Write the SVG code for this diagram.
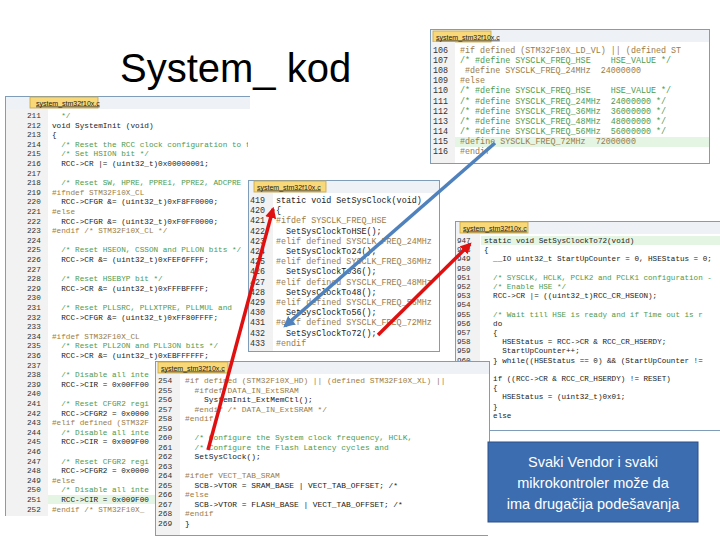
<svg xmlns="http://www.w3.org/2000/svg" width="720" height="540" viewBox="0 0 720 540" xml:space="preserve">
<style>
text{font-family:"Liberation Mono","DejaVu Sans Mono",monospace;white-space:pre}
.pane{fill:#fff;stroke:#7f9db9;stroke-width:1}
.gut{fill:#f2f2f2}
.tabbar{fill:#eef1f6}
.tab{fill:#f8d878;stroke:#c9a640;stroke-width:0.8}
.tabt{font-family:"Liberation Sans",Arial,sans-serif;font-size:7px;fill:#222;text-decoration:underline}
.ln{fill:#333}
.c{fill:#222}
.cm{fill:#4e9a4e}
.pp{fill:#9a7b48}
.hl{fill:#e4f5e4}
.red{stroke:#e01010;stroke-width:3.5;fill:none}
.blue{stroke:#4f81bd;stroke-width:3.5;fill:none}
</style>
<defs>
<marker id="ar" viewBox="0 0 10 10" refX="8" refY="5" markerWidth="3.2" markerHeight="3.2" orient="auto"><path d="M0,0 L10,5 L0,10 z" fill="#e01010"/></marker>
<marker id="ab" viewBox="0 0 10 10" refX="8" refY="5" markerWidth="3.2" markerHeight="3.2" orient="auto"><path d="M0,0 L10,5 L0,10 z" fill="#4f81bd"/></marker>
<clipPath id="c1"><path d="M5,96 H250 V180 H248 V361 H155 V516 H5 Z"/></clipPath>
<clipPath id="c1b"><path d="M5,96 H248 V361 H155 V516 H5 Z"/></clipPath>
<clipPath id="c2"><rect x="430" y="29" width="280" height="135"/></clipPath>
<clipPath id="c2t"><rect x="430" y="29" width="278" height="135"/></clipPath>
<clipPath id="c3"><rect x="248" y="180" width="192" height="172"/></clipPath>
<clipPath id="c4"><path d="M455,221 H720 V442 H488 V431 H455 Z"/></clipPath>
<clipPath id="c4t"><path d="M455,221 H718 V442 H488 V431 H455 Z"/></clipPath>
<clipPath id="c5"><path d="M155,361 H490 V442 H488 V536 H155 Z"/></clipPath>
</defs>
<rect width="720" height="540" fill="#fff"/>
<text x="120" y="82" style="font-family:'Liberation Sans','Open Sans',sans-serif;font-size:40px;fill:#000">System_ kod</text>

<g id="panel-systeminit" clip-path="url(#c1)">
<rect class="pane" x="5.5" y="96.5" width="260" height="420"/>
<rect class="tabbar" x="6" y="97" width="259" height="12"/>
<rect class="tab" x="30" y="97" width="68" height="11"/>
<text class="tabt" x="36" y="105.5">system_stm32f10x.c</text>
<rect class="gut" x="6" y="109" width="42" height="407"/>
<rect class="hl" x="48" y="495" width="200" height="9"/>
<g font-size="7.7" clip-path="url(#c1b)">
<text class="ln" x="27" y="118">211</text><text class="cm" x="52" y="118">  */</text>
<text class="ln" x="27" y="127.6">212</text><text class="c" x="52" y="127.6">void SystemInit (void)</text>
<text class="ln" x="27" y="137.2">213</text><text class="c" x="52" y="137.2">{</text>
<text class="ln" x="27" y="146.8">214</text><text class="cm" x="52" y="146.8">  /* Reset the RCC clock configuration to the default reset state</text>
<text class="ln" x="27" y="156.4">215</text><text class="cm" x="52" y="156.4">  /* Set HSION bit */</text>
<text class="ln" x="27" y="166">216</text><text class="c" x="52" y="166">  RCC->CR |= (uint32_t)0x00000001;</text>
<text class="ln" x="27" y="175.6">217</text>
<text class="ln" x="27" y="185.2">218</text><text class="cm" x="52" y="185.2">  /* Reset SW, HPRE, PPRE1, PPRE2, ADCPRE</text>
<text class="ln" x="27" y="194.8">219</text><text class="pp" x="52" y="194.8">#ifndef STM32F10X_CL</text>
<text class="ln" x="27" y="204.4">220</text><text class="c" x="52" y="204.4">  RCC->CFGR &amp;= (uint32_t)0xF8FF0000;</text>
<text class="ln" x="27" y="214">221</text><text class="pp" x="52" y="214">#else</text>
<text class="ln" x="27" y="223.6">222</text><text class="c" x="52" y="223.6">  RCC->CFGR &amp;= (uint32_t)0xF0FF0000;</text>
<text class="ln" x="27" y="233.2">223</text><text class="pp" x="52" y="233.2">#endif /* STM32F10X_CL */</text>
<text class="ln" x="27" y="242.8">224</text>
<text class="ln" x="27" y="252.4">225</text><text class="cm" x="52" y="252.4">  /* Reset HSEON, CSSON and PLLON bits */</text>
<text class="ln" x="27" y="262">226</text><text class="c" x="52" y="262">  RCC->CR &amp;= (uint32_t)0xFEF6FFFF;</text>
<text class="ln" x="27" y="271.6">227</text>
<text class="ln" x="27" y="281.2">228</text><text class="cm" x="52" y="281.2">  /* Reset HSEBYP bit */</text>
<text class="ln" x="27" y="290.8">229</text><text class="c" x="52" y="290.8">  RCC->CR &amp;= (uint32_t)0xFFFBFFFF;</text>
<text class="ln" x="27" y="300.4">230</text>
<text class="ln" x="27" y="310">231</text><text class="cm" x="52" y="310">  /* Reset PLLSRC, PLLXTPRE, PLLMUL and</text>
<text class="ln" x="27" y="319.6">232</text><text class="c" x="52" y="319.6">  RCC->CFGR &amp;= (uint32_t)0xFF80FFFF;</text>
<text class="ln" x="27" y="329.2">233</text>
<text class="ln" x="27" y="338.8">234</text><text class="pp" x="52" y="338.8">#ifdef STM32F10X_CL</text>
<text class="ln" x="27" y="348.4">235</text><text class="cm" x="52" y="348.4">  /* Reset PLL2ON and PLL3ON bits */</text>
<text class="ln" x="27" y="358">236</text><text class="c" x="52" y="358">  RCC->CR &amp;= (uint32_t)0xEBFFFFFF;</text>
<text class="ln" x="27" y="367.6">237</text>
<text class="ln" x="27" y="377.2">238</text><text class="cm" x="52" y="377.2">  /* Disable all inte</text>
<text class="ln" x="27" y="386.8">239</text><text class="c" x="52" y="386.8">  RCC->CIR = 0x00FF00</text>
<text class="ln" x="27" y="396.4">240</text>
<text class="ln" x="27" y="406">241</text><text class="cm" x="52" y="406">  /* Reset CFGR2 regi</text>
<text class="ln" x="27" y="415.6">242</text><text class="c" x="52" y="415.6">  RCC->CFGR2 = 0x0000</text>
<text class="ln" x="27" y="425.2">243</text><text class="pp" x="52" y="425.2">#elif defined (STM32F</text>
<text class="ln" x="27" y="434.8">244</text><text class="cm" x="52" y="434.8">  /* Disable all inte</text>
<text class="ln" x="27" y="444.4">245</text><text class="c" x="52" y="444.4">  RCC->CIR = 0x009F00</text>
<text class="ln" x="27" y="454">246</text>
<text class="ln" x="27" y="463.6">247</text><text class="cm" x="52" y="463.6">  /* Reset CFGR2 regi</text>
<text class="ln" x="27" y="473.2">248</text><text class="c" x="52" y="473.2">  RCC->CFGR2 = 0x0000</text>
<text class="ln" x="27" y="482.8">249</text><text class="pp" x="52" y="482.8">#else</text>
<text class="ln" x="27" y="492.4">250</text><text class="cm" x="52" y="492.4">  /* Disable all inte</text>
<text class="ln" x="27" y="502">251</text><text class="c" x="52" y="502">  RCC->CIR = 0x009F00</text>
<text class="ln" x="27" y="511.6">252</text><text class="pp" x="52" y="511.6">#endif /* STM32F10X_</text>
</g>
</g>

<g id="panel-defines" clip-path="url(#c2)">
<rect class="pane" x="430.5" y="29.5" width="279" height="134"/>
<rect class="tabbar" x="431" y="30" width="278" height="12"/>
<rect class="tab" x="433" y="31" width="58" height="11"/>
<text class="tabt" x="436" y="39.5">system_stm32f10x.c</text>
<rect class="gut" x="431" y="42" width="24" height="121"/>
<rect class="hl" x="455" y="137" width="254" height="10"/>
<g font-size="8.4" clip-path="url(#c2t)">
<text class="ln" x="433" y="53">106</text><text class="pp" x="460" y="53">#if defined (STM32F10X_LD_VL) || (defined ST</text>
<text class="ln" x="433" y="63.1">107</text><text class="cm" x="460" y="63.1">/* #define SYSCLK_FREQ_HSE    HSE_VALUE */</text>
<text class="ln" x="433" y="73.2">108</text><text class="pp" x="460" y="73.2"> #define SYSCLK_FREQ_24MHz  24000000</text>
<text class="ln" x="433" y="83.3">109</text><text class="pp" x="460" y="83.3">#else</text>
<text class="ln" x="433" y="93.4">110</text><text class="cm" x="460" y="93.4">/* #define SYSCLK_FREQ_HSE    HSE_VALUE */</text>
<text class="ln" x="433" y="103.5">111</text><text class="cm" x="460" y="103.5">/* #define SYSCLK_FREQ_24MHz  24000000 */</text>
<text class="ln" x="433" y="113.6">112</text><text class="cm" x="460" y="113.6">/* #define SYSCLK_FREQ_36MHz  36000000 */</text>
<text class="ln" x="433" y="123.7">113</text><text class="cm" x="460" y="123.7">/* #define SYSCLK_FREQ_48MHz  48000000 */</text>
<text class="ln" x="433" y="133.8">114</text><text class="cm" x="460" y="133.8">/* #define SYSCLK_FREQ_56MHz  56000000 */</text>
<text class="ln" x="433" y="143.9">115</text><text class="pp" x="460" y="143.9">#define SYSCLK_FREQ_72MHz  72000000</text>
<text class="ln" x="433" y="154">116</text><text class="pp" x="460" y="154">#endif</text>
</g>
</g>

<g id="panel-setsysclock" clip-path="url(#c3)">
<rect class="pane" x="248.5" y="180.5" width="191" height="171"/>
<rect class="tabbar" x="249" y="181" width="190" height="12"/>
<rect class="tab" x="254" y="181" width="72" height="11"/>
<text class="tabt" x="257" y="189.5">system_stm32f10x.c</text>
<rect class="gut" x="249" y="193" width="24" height="158"/>
<g font-size="8.4">
<text class="ln" x="250" y="203">419</text><text class="c" x="276" y="203">static void SetSysClock(void)</text>
<text class="ln" x="250" y="213.2">420</text><text class="c" x="276" y="213.2">{</text>
<text class="ln" x="250" y="223.4">421</text><text class="pp" x="276" y="223.4">#ifdef SYSCLK_FREQ_HSE</text>
<text class="ln" x="250" y="233.6">422</text><text class="c" x="276" y="233.6">  SetSysClockToHSE();</text>
<text class="ln" x="250" y="243.8">423</text><text class="pp" x="276" y="243.8">#elif defined SYSCLK_FREQ_24MHz</text>
<text class="ln" x="250" y="254">424</text><text class="c" x="276" y="254">  SetSysClockTo24();</text>
<text class="ln" x="250" y="264.2">425</text><text class="pp" x="276" y="264.2">#elif defined SYSCLK_FREQ_36MHz</text>
<text class="ln" x="250" y="274.4">426</text><text class="c" x="276" y="274.4">  SetSysClockTo36();</text>
<text class="ln" x="250" y="284.6">427</text><text class="pp" x="276" y="284.6">#elif defined SYSCLK_FREQ_48MHz</text>
<text class="ln" x="250" y="294.8">428</text><text class="c" x="276" y="294.8">  SetSysClockTo48();</text>
<text class="ln" x="250" y="305">429</text><text class="pp" x="276" y="305">#elif defined SYSCLK_FREQ_56MHz</text>
<text class="ln" x="250" y="315.2">430</text><text class="c" x="276" y="315.2">  SetSysClockTo56();</text>
<text class="ln" x="250" y="325.4">431</text><text class="pp" x="276" y="325.4">#elif defined SYSCLK_FREQ_72MHz</text>
<text class="ln" x="250" y="335.6">432</text><text class="c" x="276" y="335.6">  SetSysClockTo72();</text>
<text class="ln" x="250" y="345.8">433</text><text class="pp" x="276" y="345.8">#endif</text>
</g>
</g>

<g id="panel-setsysclockto72" clip-path="url(#c4)">
<rect class="pane" x="455.5" y="221.5" width="270" height="209"/>
<rect class="tabbar" x="456" y="222" width="264" height="12"/>
<rect class="tab" x="460" y="222" width="68" height="11"/>
<text class="tabt" x="463" y="230.5">system_stm32f10x.c</text>
<rect class="gut" x="456" y="234" width="24" height="196"/>
<rect class="hl" x="481" y="236" width="239" height="9"/>
<g font-size="7.6" clip-path="url(#c4t)">
<text class="ln" x="457" y="243">947</text><text class="c" x="484" y="243">static void SetSysClockTo72(void)</text>
<text class="ln" x="457" y="252.2">948</text><text class="c" x="484" y="252.2">{</text>
<text class="ln" x="457" y="261.4">949</text><text class="c" x="484" y="261.4">  __IO uint32_t StartUpCounter = 0, HSEStatus = 0;</text>
<text class="ln" x="457" y="270.6">950</text>
<text class="ln" x="457" y="279.8">951</text><text class="cm" x="484" y="279.8">  /* SYSCLK, HCLK, PCLK2 and PCLK1 configuration -</text>
<text class="ln" x="457" y="289">952</text><text class="cm" x="484" y="289">  /* Enable HSE */</text>
<text class="ln" x="457" y="298.2">953</text><text class="c" x="484" y="298.2">  RCC->CR |= ((uint32_t)RCC_CR_HSEON);</text>
<text class="ln" x="457" y="307.4">954</text>
<text class="ln" x="457" y="316.6">955</text><text class="cm" x="484" y="316.6">  /* Wait till HSE is ready and if Time out is r</text>
<text class="ln" x="457" y="325.8">956</text><text class="c" x="484" y="325.8">  do</text>
<text class="ln" x="457" y="335">957</text><text class="c" x="484" y="335">  {</text>
<text class="ln" x="457" y="344.2">958</text><text class="c" x="484" y="344.2">    HSEStatus = RCC->CR &amp; RCC_CR_HSERDY;</text>
<text class="ln" x="457" y="353.4">959</text><text class="c" x="484" y="353.4">    StartUpCounter++;</text>
<text class="ln" x="457" y="362.6">960</text><text class="c" x="484" y="362.6">  } while((HSEStatus == 0) &amp;&amp; (StartUpCounter != </text>
<text class="ln" x="457" y="371.8">961</text>
<text class="ln" x="457" y="381">962</text><text class="c" x="484" y="381">  if ((RCC->CR &amp; RCC_CR_HSERDY) != RESET)</text>
<text class="ln" x="457" y="390.2">963</text><text class="c" x="484" y="390.2">  {</text>
<text class="ln" x="457" y="399.4">964</text><text class="c" x="484" y="399.4">    HSEStatus = (uint32_t)0x01;</text>
<text class="ln" x="457" y="408.6">965</text><text class="c" x="484" y="408.6">  }</text>
<text class="ln" x="457" y="417.8">966</text><text class="c" x="484" y="417.8">  else</text>
</g>
</g>

<g id="panel-init-end" clip-path="url(#c5)">
<rect class="pane" x="155.5" y="361.5" width="334" height="174"/>
<rect class="tabbar" x="156" y="362" width="333" height="12"/>
<rect class="tab" x="158" y="362" width="70" height="11"/>
<text class="tabt" x="161" y="370.5">system_stm32f10x.c</text>
<rect class="gut" x="156" y="374" width="24" height="161"/>
<g font-size="7.9">
<text class="ln" x="158" y="383">254</text><text class="pp" x="185" y="383">#if defined (STM32F10X_HD) || (defined STM32F10X_XL) ||</text>
<text class="ln" x="158" y="392.5">255</text><text class="pp" x="185" y="392.5">  #ifdef DATA_IN_ExtSRAM</text>
<text class="ln" x="158" y="402">256</text><text class="c" x="185" y="402">    SystemInit_ExtMemCtl();</text>
<text class="ln" x="158" y="411.5">257</text><text class="pp" x="185" y="411.5">  #endif /* DATA_IN_ExtSRAM */</text>
<text class="ln" x="158" y="421">258</text><text class="pp" x="185" y="421">#endif</text>
<text class="ln" x="158" y="430.5">259</text>
<text class="ln" x="158" y="440">260</text><text class="cm" x="185" y="440">  /* Configure the System clock frequency, HCLK,</text>
<text class="ln" x="158" y="449.5">261</text><text class="cm" x="185" y="449.5">  /* Configure the Flash Latency cycles and</text>
<text class="ln" x="158" y="459">262</text><text class="c" x="185" y="459">  SetSysClock();</text>
<text class="ln" x="158" y="468.5">263</text>
<text class="ln" x="158" y="478">264</text><text class="pp" x="185" y="478">#ifdef VECT_TAB_SRAM</text>
<text class="ln" x="158" y="487.5">265</text><text class="c" x="185" y="487.5">  SCB->VTOR = SRAM_BASE | VECT_TAB_OFFSET; /*</text>
<text class="ln" x="158" y="497">266</text><text class="pp" x="185" y="497">#else</text>
<text class="ln" x="158" y="506.5">267</text><text class="c" x="185" y="506.5">  SCB->VTOR = FLASH_BASE | VECT_TAB_OFFSET; /*</text>
<text class="ln" x="158" y="516">268</text><text class="pp" x="185" y="516">#endif</text>
<text class="ln" x="158" y="525.5">269</text><text class="c" x="185" y="525.5">}</text>
</g>
</g>

<g id="connectors">
<line class="red" x1="208" y1="450" x2="273" y2="209" marker-end="url(#ar)"/>
<line class="red" x1="378" y1="335" x2="470" y2="244" marker-end="url(#ar)"/>
<line class="blue" x1="495" y1="143" x2="285" y2="326" marker-end="url(#ab)"/>
</g>

<g id="note">
<rect x="488" y="442" width="210" height="80" fill="#3c6db0" stroke="#2c4f86" stroke-width="1"/>
<text x="593" y="467" text-anchor="middle" style="font-family:'Liberation Sans','Open Sans',sans-serif;font-size:14.5px;fill:#fff">Svaki Vendor i svaki</text>
<text x="593" y="488" text-anchor="middle" style="font-family:'Liberation Sans','Open Sans',sans-serif;font-size:14.5px;fill:#fff">mikrokontroler može da</text>
<text x="593" y="509" text-anchor="middle" style="font-family:'Liberation Sans','Open Sans',sans-serif;font-size:14.5px;fill:#fff">ima drugačija podešavanja</text>
</g>
</svg>
